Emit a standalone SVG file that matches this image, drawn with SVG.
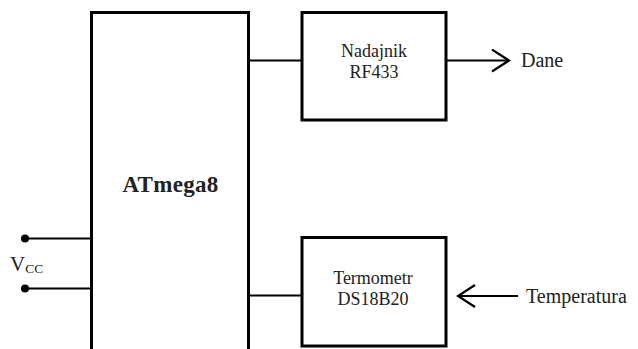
<svg xmlns="http://www.w3.org/2000/svg" width="638" height="349" viewBox="0 0 638 349">
<style>
.box{fill:#fff;stroke:#000;stroke-width:3}
.wire{fill:none;stroke:#000;stroke-width:2}
.t{font-family:"Liberation Serif","Times New Roman",serif;fill:#222}
.lbl{font-size:18px;text-anchor:middle}
</style>
<defs>
<marker id="arr" markerWidth="20" markerHeight="24" refX="18" refY="12" orient="auto" markerUnits="userSpaceOnUse">
<path d="M1,1 L18,12 L1,23" fill="none" stroke="#000" stroke-width="2.2"/>
</marker>
</defs>
<rect width="638" height="349" fill="#fff"/>
<g id="connectors">
<line class="wire" x1="249" y1="60.5" x2="302" y2="60.5"/>
<line class="wire" x1="249" y1="295.5" x2="302" y2="295.5"/>
<line class="wire" x1="446" y1="60.5" x2="509" y2="60.5" marker-end="url(#arr)"/>
<line class="wire" x1="518" y1="296" x2="458" y2="296" marker-end="url(#arr)"/>
<line class="wire" x1="25" y1="238.5" x2="91" y2="238.5"/>
<line class="wire" x1="25" y1="288.5" x2="91" y2="288.5"/>
<circle cx="25" cy="238.5" r="4" fill="#000"/>
<circle cx="25" cy="288.5" r="4" fill="#000"/>
</g>
<g id="atmega8">
<path class="box" d="M91.5,352 V12.5 H248.5 V352"/>
<text class="t" x="170.5" y="192" font-size="23" font-weight="bold" text-anchor="middle" letter-spacing="0.3">ATmega8</text>
</g>
<g id="nadajnik">
<rect class="box" x="302" y="12.5" width="144" height="107.5"/>
<text class="t lbl" x="374" y="57.3">Nadajnik</text>
<text class="t lbl" x="374" y="78.3">RF433</text>
</g>
<g id="termometr">
<rect class="box" x="302" y="237.5" width="144" height="108.5"/>
<text class="t lbl" x="373" y="284">Termometr</text>
<text class="t lbl" x="373" y="305">DS18B20</text>
</g>
<g id="dane">
<text class="t" x="521" y="67" font-size="20">Dane</text>
</g>
<g id="temperatura">
<text class="t" x="526" y="303" font-size="20">Temperatura</text>
</g>
<g id="vcc">
<text class="t" x="10" y="271" font-size="21">V<tspan font-size="13.5" dy="2">CC</tspan></text>
</g>
</svg>
